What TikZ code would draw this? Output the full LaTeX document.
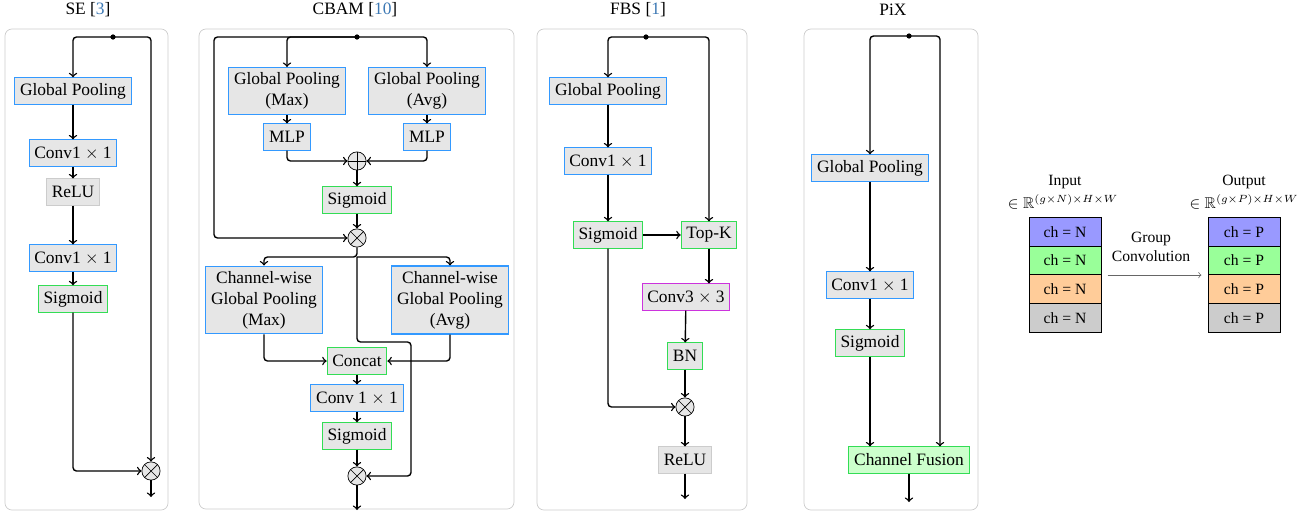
\documentclass[tikz,border=0pt]{standalone}
\usepackage{amssymb}
\usepackage{fontspec}
\setmainfont{Liberation Serif}
\usepackage{tikz}
\usetikzlibrary{positioning,calc}

\definecolor{boxgray}{HTML}{E6E6E6}
\definecolor{convblue}{HTML}{3399FF}
\definecolor{actgreen}{HTML}{33DD55}
\definecolor{convmag}{HTML}{CC33DD}
\definecolor{panelgray}{HTML}{CCCCCC}
\definecolor{citeblue}{HTML}{3C78B4}
\definecolor{fusegreen}{HTML}{CCFFCC}
\definecolor{chblue}{HTML}{9999FF}
\definecolor{chgreen}{HTML}{99FF99}
\definecolor{chorange}{HTML}{FFCC99}
\definecolor{chgray}{HTML}{CCCCCC}

\tikzset{
    blk/.style = {draw, fill = boxgray, semithick, inner sep = 3pt, minimum height = 15pt, align = center},
    convblk/.style = {blk, draw = convblue},
    actblk/.style = {blk, draw = actgreen},
    magblk/.style = {blk, draw = convmag},
    relublk/.style = {blk, draw = panelgray},
    fuseblk/.style = {blk, draw = actgreen, fill = fusegreen},
    panel/.style = {draw = panelgray, rounded corners = 4pt},
    flow/.style = {->, thick, rounded corners = 2pt},
    mult/.style = {circle, draw, fill = boxgray, minimum size = 10.5pt, inner sep = 0pt,
        path picture = {\draw (path picture bounding box.north west) -- (path picture bounding box.south east)
            (path picture bounding box.north east) -- (path picture bounding box.south west);}},
    plus/.style = {circle, draw, fill = boxgray, minimum size = 10.5pt, inner sep = 0pt,
        path picture = {\draw (path picture bounding box.north) -- (path picture bounding box.south)
            (path picture bounding box.east) -- (path picture bounding box.west);}},
    cell/.style = {draw, minimum width = 41.5pt, minimum height = 16.5pt, inner sep = 0pt, font = \small},
}

\begin{document}
\begin{tikzpicture}[x = .575pt, y = -.575pt]
    \useasboundingbox (0,0) rectangle (1310,516);

    % panels and titles
    \draw[panel] (5,29) rectangle (168,510);
    \draw[panel] (199,29) rectangle (514,509);
    \draw[panel] (537,29) rectangle (747,510);
    \draw[panel] (804,29) rectangle (978,510);
    \node (se-title) at (88,10) {SE [\textcolor{citeblue}{3}]};
    \node (cb-title) at (355,10) {CBAM [\textcolor{citeblue}{10}]};
    \node (fb-title) at (638,10) {FBS [\textcolor{citeblue}{1}]};
    \node (px-title) at (893,10) {PiX};

    % SE
    \coordinate (se-top) at (113,37);
    \node[convblk] (se-gp) at (73,91) {Global Pooling};
    \node[convblk] (se-c1) at (73,153) {Conv1 $\times$ 1};
    \node[relublk] (se-relu) at (73,192) {ReLU};
    \node[convblk] (se-c2) at (73,258) {Conv1 $\times$ 1};
    \node[actblk] (se-sig) at (73,299) {Sigmoid};
    \node[mult] (se-mul) at (151,471) {};
    \coordinate (se-out) at (151,497);
    \draw[flow] (se-top) -| (se-gp);
    \draw[flow] (se-top) -| (se-mul);
    \draw[flow] (se-gp) -- (se-c1);
    \draw[flow] (se-c1) -- (se-relu);
    \draw[flow] (se-relu) -- (se-c2);
    \draw[flow] (se-c2) -- (se-sig);
    \draw[flow] (se-sig) |- (se-mul);
    \draw[flow] (se-mul) -- (se-out);
    \fill (se-top) circle (1.5pt);

    % CBAM
    \coordinate (cb-top) at (357,37);
    \coordinate (cb-left) at (214,37);
    \node[convblk] (cb-gpm) at (287,91) {Global Pooling\\(Max)};
    \node[convblk] (cb-gpa) at (427,91) {Global Pooling\\(Avg)};
    \node[convblk] (cb-mlpm) at (287,137) {MLP};
    \node[convblk] (cb-mlpa) at (427,137) {MLP};
    \node[plus] (cb-add) at (357,161) {};
    \node[actblk] (cb-sig1) at (357,200) {Sigmoid};
    \node[mult] (cb-mul1) at (357,238) {};
    \coordinate (cb-split) at (357,257);
    \coordinate (cb-bend) at (411,342);
    \node[convblk] (cb-cwm) at (264,300) {Channel-wise\\Global Pooling\\(Max)};
    \node[convblk] (cb-cwa) at (450,300) {Channel-wise\\Global Pooling\\(Avg)};
    \node[actblk] (cb-cat) at (357,361) {Concat};
    \node[convblk] (cb-conv) at (357,398) {Conv 1 $\times$ 1};
    \node[actblk] (cb-sig2) at (357,436) {Sigmoid};
    \node[mult] (cb-mul2) at (357,476) {};
    \coordinate (cb-out) at (357,510);
    \draw[flow] (cb-top) -| (cb-gpm);
    \draw[flow] (cb-top) -| (cb-gpa);
    \draw[flow] (cb-top) -- (cb-left) |- (cb-mul1);
    \draw[flow] (cb-gpm) -- (cb-mlpm);
    \draw[flow] (cb-gpa) -- (cb-mlpa);
    \draw[flow] (cb-mlpm) |- (cb-add);
    \draw[flow] (cb-mlpa) |- (cb-add);
    \draw[flow] (cb-add) -- (cb-sig1);
    \draw[flow] (cb-sig1) -- (cb-mul1);
    \draw[flow] (cb-mul1) -- (cb-split) -| (cb-cwm);
    \draw[flow] (cb-split) -| (cb-cwa);
    \draw[flow] (cb-split) |- (cb-bend) |- (cb-mul2);
    \draw[flow] (cb-cwm) |- (cb-cat);
    \draw[flow] (cb-cwa) |- (cb-cat);
    \draw[flow] (cb-cat) -- (cb-conv);
    \draw[flow] (cb-conv) -- (cb-sig2);
    \draw[flow] (cb-sig2) -- (cb-mul2);
    \draw[flow] (cb-mul2) -- (cb-out);
    \fill (cb-top) circle (1.5pt);

    % FBS
    \coordinate (fb-top) at (646,37);
    \node[convblk] (fb-gp) at (608,91) {Global Pooling};
    \node[convblk] (fb-c1) at (608,161) {Conv1 $\times$ 1};
    \node[actblk] (fb-sig) at (608,235) {Sigmoid};
    \node[actblk] (fb-topk) at (709,235) {Top-K};
    \node[magblk] (fb-c3) at (686,297) {Conv3 $\times$ 3};
    \node[actblk] (fb-bn) at (685,356) {BN};
    \node[mult] (fb-mul) at (685,407) {};
    \node[relublk] (fb-relu) at (685,460) {ReLU};
    \coordinate (fb-out) at (685,499);
    \draw[flow] (fb-top) -| (fb-gp);
    \draw[flow] (fb-top) -| (fb-topk);
    \draw[flow] (fb-gp) -- (fb-c1);
    \draw[flow] (fb-c1) -- (fb-sig);
    \draw[flow] (fb-sig) -- (fb-topk);
    \draw[flow] (fb-topk) -- (fb-topk |- fb-c3.north);
    \draw[flow] (fb-c3) -- (fb-bn);
    \draw[flow] (fb-bn) -- (fb-mul);
    \draw[flow] (fb-sig) |- (fb-mul);
    \draw[flow] (fb-mul) -- (fb-relu);
    \draw[flow] (fb-relu) -- (fb-out);
    \fill (fb-top) circle (1.5pt);

    % PiX
    \coordinate (px-top) at (909,36);
    \node[convblk] (px-gp) at (870,168) {Global Pooling};
    \node[convblk] (px-c1) at (870,285) {Conv1 $\times$ 1};
    \node[actblk] (px-sig) at (870,343) {Sigmoid};
    \node[fuseblk] (px-fuse) at (909,460) {Channel Fusion};
    \coordinate (px-out) at (909,502);
    \draw[flow] (px-top) -| (px-gp);
    \draw[flow] (px-top) -| ($(px-fuse.north)+(31,0)$);
    \draw[flow] (px-gp) -- (px-c1);
    \draw[flow] (px-c1) -- (px-sig);
    \draw[flow] (px-sig) -- (px-sig |- px-fuse.north);
    \draw[flow] (px-fuse) -- (px-out);
    \fill (px-top) circle (1.5pt);

    % group convolution
    \node[font = \small] (in-lbl) at (1065,182) {Input};
    \node[font = \small] (in-dim) at (1063,202) {$\in\mathbb{R}^{(g\times N)\times H\times W}$};
    \node[font = \small] (out-lbl) at (1244,182) {Output};
    \node[font = \small] (out-dim) at (1244,202) {$\in\mathbb{R}^{(g\times P)\times H\times W}$};
    \foreach \c [count = \i] in {chblue, chgreen, chorange, chgray} {
        \node[cell, fill = \c] (in-\i) at (1065, 203 + 28.7*\i) {ch = N};
        \node[cell, fill = \c] (out-\i) at (1244, 203 + 28.7*\i) {ch = P};
    }
    \node[font = \small, align = center] (gc-lbl) at (1151,247) {Group\\Convolution};
    \draw[->, gray!80!black] ([xshift = 3.5pt]in-2.south east) -- ([xshift = -3.5pt]out-2.south west);
\end{tikzpicture}
\end{document}
